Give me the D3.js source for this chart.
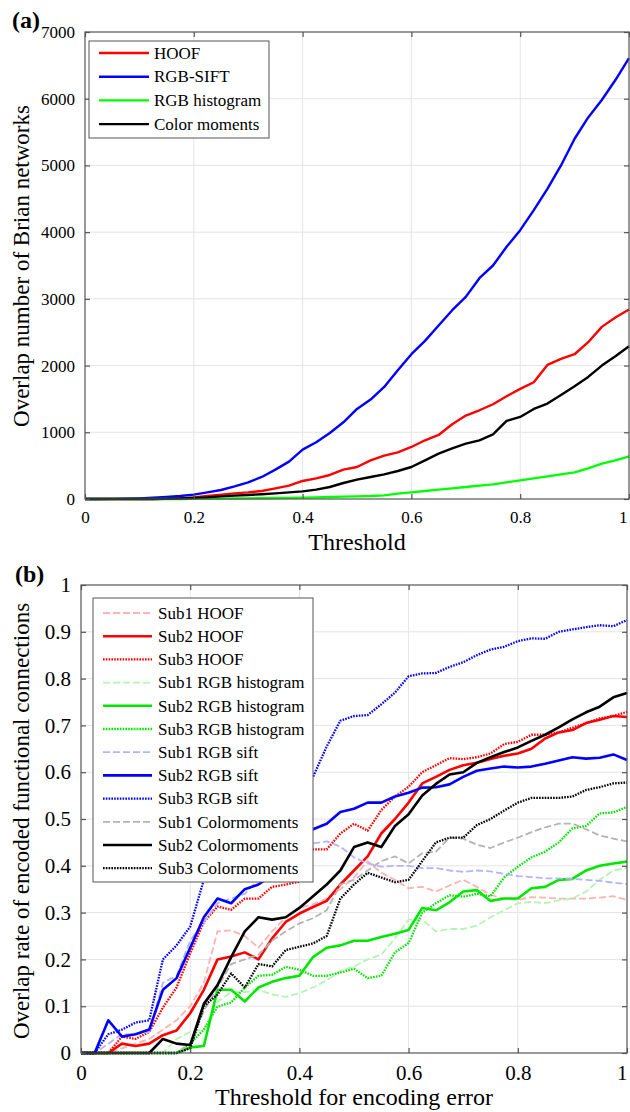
<!DOCTYPE html>
<html><head><meta charset="utf-8">
<script src="https://cdn.jsdelivr.net/npm/d3@7"></script>
<style>
html,body{margin:0;padding:0;background:#fff;}
svg{display:block;font-family:"Liberation Serif","Times New Roman",serif;}
</style></head>
<body>
<svg id="chart" width="630" height="1112"></svg>
<script>
// ---------- DATA ----------
const xGrid = [0,0.025,0.05,0.075,0.1,0.125,0.15,0.175,0.2,0.225,0.25,0.275,0.3,0.325,0.35,0.375,0.4,0.425,0.45,0.475,0.5,0.525,0.55,0.575,0.6,0.625,0.65,0.675,0.7,0.725,0.75,0.775,0.8,0.825,0.85,0.875,0.9,0.925,0.95,0.975,1.0];

// Panel (a)
const aNames = ["HOOF","RGB-SIFT","RGB histogram","Color moments"];
const aColors = ["#ff0000","#0000ff","#00ff00","#000000"];
const aHOOF = [0,0,0,0,0,0,5,10,25,45,65,85,100,120,160,200,270,310,360,440,480,580,650,700,780,880,960,1120,1250,1330,1420,1540,1650,1750,2010,2100,2170,2350,2580,2720,2840];
const aSIFT = [0,0,2,5,10,18,30,45,65,100,135,190,250,330,440,560,740,850,990,1150,1350,1490,1680,1930,2170,2370,2600,2830,3030,3310,3500,3780,4030,4330,4650,5000,5400,5720,5980,6280,6610];
const aHist = [0,0,0,0,0,0,0,1,2,3,5,7,10,12,15,17,20,25,30,35,40,45,55,80,100,120,140,160,180,200,220,250,280,310,340,370,400,460,530,580,640];
const aMom  = [0,0,0,0,0,0,2,8,15,25,40,50,60,72,85,100,115,140,180,240,290,330,370,420,480,580,680,760,830,880,970,1170,1230,1350,1430,1560,1690,1830,2000,2140,2290];
const aYTicks = [0,1000,2000,3000,4000,5000,6000,7000];
const xTicks = [0,0.2,0.4,0.6,0.8,1];

// Panel (b)
const bNames = ["Sub1 HOOF","Sub2 HOOF","Sub3 HOOF","Sub1 RGB histogram","Sub2 RGB histogram","Sub3 RGB histogram","Sub1 RGB sift","Sub2 RGB sift","Sub3 RGB sift","Sub1 Colormoments","Sub2 Colormoments","Sub3 Colormoments"];
const bColors = ["#ffb3b3","#ff0000","#ff0000","#b3f5b3","#00e600","#00e600","#b3b3ff","#0000ff","#0000ff","#b3b3b3","#000000","#000000"];
const bStyles = ["dash","solid","dot","dash","solid","dot","dash","solid","dot","dash","solid","dot"];
const sub1HOOF = [0,0,0,0.01,0.02,0.03,0.05,0.07,0.1,0.15,0.26,0.262,0.25,0.225,0.26,0.29,0.31,0.318,0.33,0.35,0.375,0.41,0.385,0.37,0.352,0.355,0.345,0.358,0.37,0.355,0.338,0.33,0.327,0.333,0.332,0.33,0.33,0.33,0.332,0.335,0.327];
const sub2HOOF = [0,0,0,0.02,0.015,0.02,0.038,0.048,0.085,0.135,0.2,0.206,0.215,0.2,0.245,0.28,0.298,0.312,0.325,0.36,0.39,0.42,0.469,0.5,0.535,0.576,0.59,0.605,0.615,0.62,0.628,0.635,0.64,0.65,0.672,0.685,0.69,0.705,0.712,0.72,0.718];
const sub3HOOF = [0,0,0,0.035,0.03,0.045,0.097,0.14,0.213,0.28,0.313,0.306,0.33,0.33,0.355,0.36,0.366,0.435,0.435,0.469,0.49,0.475,0.519,0.548,0.569,0.6,0.615,0.63,0.628,0.632,0.64,0.66,0.665,0.68,0.68,0.685,0.695,0.705,0.715,0.72,0.729];
const sub1Hist = [0,0,0,0,0,0,0,0.03,0.045,0.05,0.11,0.13,0.13,0.135,0.125,0.12,0.128,0.14,0.155,0.175,0.185,0.2,0.21,0.245,0.285,0.285,0.26,0.265,0.265,0.272,0.29,0.305,0.32,0.323,0.32,0.326,0.33,0.345,0.37,0.39,0.395];
const sub2Hist = [0,0,0,0,0,0,0,0,0.012,0.015,0.135,0.135,0.11,0.14,0.152,0.16,0.165,0.205,0.225,0.23,0.24,0.24,0.248,0.255,0.263,0.31,0.305,0.322,0.345,0.348,0.325,0.33,0.33,0.352,0.355,0.37,0.372,0.39,0.4,0.405,0.409];
const sub3Hist = [0,0,0,0,0,0,0,0,0.02,0.05,0.099,0.108,0.14,0.165,0.167,0.184,0.178,0.165,0.165,0.172,0.18,0.16,0.165,0.215,0.235,0.3,0.32,0.337,0.334,0.34,0.335,0.375,0.398,0.418,0.43,0.45,0.48,0.485,0.512,0.514,0.526];
const sub1Sift = [0,0,0.02,0.04,0.04,0.045,0.15,0.165,0.24,0.28,0.32,0.33,0.34,0.37,0.4,0.42,0.44,0.448,0.452,0.441,0.418,0.405,0.398,0.4,0.4,0.395,0.395,0.39,0.387,0.39,0.388,0.383,0.378,0.376,0.373,0.373,0.372,0.37,0.368,0.364,0.361];
const sub2Sift = [0,0,0.07,0.035,0.04,0.05,0.135,0.16,0.225,0.29,0.33,0.32,0.35,0.36,0.38,0.42,0.46,0.478,0.49,0.515,0.522,0.535,0.535,0.548,0.556,0.567,0.568,0.574,0.59,0.603,0.608,0.612,0.61,0.612,0.618,0.625,0.632,0.629,0.631,0.638,0.626];
const sub3Sift = [0,0,0.04,0.05,0.065,0.07,0.2,0.23,0.27,0.37,0.45,0.48,0.5,0.52,0.53,0.545,0.56,0.59,0.655,0.71,0.72,0.722,0.745,0.77,0.805,0.811,0.812,0.825,0.835,0.85,0.862,0.868,0.88,0.886,0.885,0.9,0.905,0.91,0.914,0.912,0.925];
const sub1Mom = [0,0,0,0,0,0,0,0,0.02,0.09,0.14,0.19,0.2,0.21,0.24,0.26,0.277,0.288,0.305,0.36,0.37,0.39,0.41,0.42,0.405,0.427,0.43,0.46,0.458,0.445,0.438,0.45,0.46,0.472,0.482,0.49,0.49,0.478,0.465,0.458,0.452];
const sub2Mom = [0,0,0,0,0,0,0.03,0.02,0.017,0.105,0.145,0.205,0.26,0.29,0.285,0.29,0.31,0.335,0.36,0.39,0.44,0.45,0.44,0.485,0.51,0.55,0.575,0.595,0.6,0.62,0.632,0.643,0.653,0.667,0.68,0.696,0.713,0.728,0.74,0.76,0.769];
const sub3Mom = [0,0,0,0,0,0,0,0,0.01,0.1,0.125,0.17,0.14,0.19,0.185,0.22,0.227,0.234,0.25,0.33,0.36,0.385,0.375,0.365,0.37,0.41,0.45,0.46,0.46,0.487,0.5,0.518,0.535,0.545,0.545,0.545,0.548,0.562,0.568,0.576,0.578];
const bSeries = [sub1HOOF,sub2HOOF,sub3HOOF,sub1Hist,sub2Hist,sub3Hist,sub1Sift,sub2Sift,sub3Sift,sub1Mom,sub2Mom,sub3Mom];
const bYTicks = [0,0.1,0.2,0.3,0.4,0.5,0.6,0.7,0.8,0.9,1];

// ---------- DRAW ----------
const svg = d3.select("#chart");
const fmt = d => d===0?"0":(d===1?"1":String(d));

function grid(g, x, y, xt, yt){
  const [x0,x1] = x.range(), [y0,y1] = y.range();
  g.append("g").selectAll("line").data(xt.slice(1,-1)).join("line")
    .attr("x1",d=>x(d)).attr("x2",d=>x(d)).attr("y1",y0).attr("y2",y1)
    .attr("stroke","#e4e4e4").attr("stroke-width",1);
  g.append("g").selectAll("line").data(yt.slice(1,-1)).join("line")
    .attr("y1",d=>y(d)).attr("y2",d=>y(d)).attr("x1",x0).attr("x2",x1)
    .attr("stroke","#e4e4e4").attr("stroke-width",1);
}
function axesOn(g, x, y, xt, yt, tickFont, yFmt){
  const [x0,x1] = x.range(), [y0,y1] = y.range();
  const ax = g.append("g").attr("class","axes");
  ax.append("rect").attr("x",x0).attr("y",y1).attr("width",x1-x0).attr("height",y0-y1)
    .attr("fill","none").attr("stroke","#555").attr("stroke-width",1.2);
  const bx = ax.append("g").attr("transform",`translate(0,${y0})`)
    .call(d3.axisBottom(x).tickValues(xt).tickSize(-5).tickPadding(12).tickFormat(fmt));
  const tx = ax.append("g").attr("transform",`translate(0,${y1})`)
    .call(d3.axisTop(x).tickValues(xt).tickSize(-5).tickFormat(""));
  const ly = ax.append("g").attr("transform",`translate(${x0},0)`)
    .call(d3.axisLeft(y).tickValues(yt).tickSize(-5).tickPadding(10).tickFormat(yFmt));
  const ry = ax.append("g").attr("transform",`translate(${x1},0)`)
    .call(d3.axisRight(y).tickValues(yt).tickSize(-5).tickFormat(""));
  [bx,tx,ly,ry].forEach(a=>{
    a.select(".domain").remove();
    a.selectAll(".tick line").attr("stroke","#555").attr("stroke-width",1.2);
    a.selectAll("text").attr("font-family","Liberation Serif").attr("font-size",tickFont).attr("fill","#000");
  });
  // keep the last x label (1) inside the page edge
  bx.selectAll(".tick").filter(d=>d===1).select("text").attr("text-anchor","end").attr("dx",(627 - x1) + "px");
}

// Panel (a)
const xa = d3.scaleLinear().domain([0,1]).range([85,629]);
const ya = d3.scaleLinear().domain([0,7000]).range([499,32]);
const ga = svg.append("g");
grid(ga, xa, ya, xTicks, aYTicks);
const aSeries = [aHOOF,aSIFT,aHist,aMom];
const lineA = d3.line().x((d,i)=>xa(xGrid[i])).y(d=>ya(d));
aSeries.forEach((s,k)=>{
  ga.append("path").datum(s).attr("d",lineA).attr("fill","none")
    .attr("stroke",aColors[k]).attr("stroke-width",2.4).attr("stroke-linejoin","round");
});
axesOn(ga, xa, ya, xTicks, aYTicks, 17, d=>String(d));
const lga = ga.append("g");
lga.append("rect").attr("x",89).attr("y",41).attr("width",180).attr("height",97)
  .attr("fill","#fff").attr("stroke","#555").attr("stroke-width",1);
aNames.forEach((n,i)=>{
  const yy = 53 + i*23.7;
  lga.append("line").attr("x1",99).attr("x2",149).attr("y1",yy).attr("y2",yy)
    .attr("stroke",aColors[i]).attr("stroke-width",2.4);
  lga.append("text").attr("x",154).attr("y",yy).attr("dy","0.34em")
    .attr("font-size",17).text(n);
});
svg.append("text").attr("x",12).attr("y",28).attr("font-size",24).attr("font-weight","bold").text("(a)");
svg.append("text").attr("x",(85+629)/2).attr("y",550).attr("text-anchor","middle").attr("font-size",24).text("Threshold");
svg.append("text").attr("transform","translate(29,266) rotate(-90)").attr("text-anchor","middle").attr("font-size",23).text("Overlap number of Brian networks");

// Panel (b)
const xb = d3.scaleLinear().domain([0,1]).range([81,627]);
const yb = d3.scaleLinear().domain([0,1]).range([1053,585]);
const gb = svg.append("g");
grid(gb, xb, yb, xTicks, bYTicks);
const lineB = d3.line().x((d,i)=>xb(xGrid[i])).y(d=>yb(d));
const styleOf = st => st==="dash" ? {w:1.8,da:"7,3"} : st==="dot" ? {w:2.3,da:"1.6,1.2"} : {w:2.6,da:null};
bSeries.forEach((s,k)=>{
  const st = styleOf(bStyles[k]);
  gb.append("path").datum(s).attr("d",lineB).attr("fill","none")
    .attr("stroke",bColors[k]).attr("stroke-width",st.w).attr("stroke-dasharray",st.da)
    .attr("stroke-linejoin","round");
});
axesOn(gb, xb, yb, xTicks, bYTicks, 21, fmt);
const lgb = gb.append("g");
lgb.append("rect").attr("x",93).attr("y",598).attr("width",220).attr("height",284)
  .attr("fill","#fff").attr("stroke","#555").attr("stroke-width",1);
bNames.forEach((n,i)=>{
  const yy = 613 + i*23.2;
  const st = styleOf(bStyles[i]);
  lgb.append("line").attr("x1",103).attr("x2",152).attr("y1",yy).attr("y2",yy)
    .attr("stroke",bColors[i]).attr("stroke-width",st.w).attr("stroke-dasharray",st.da);
  lgb.append("text").attr("x",158).attr("y",yy).attr("dy","0.34em")
    .attr("font-size",17).text(n);
});
svg.append("text").attr("x",15).attr("y",582).attr("font-size",24).attr("font-weight","bold").text("(b)");
svg.append("text").attr("x",(81+627)/2).attr("y",1105).attr("text-anchor","middle").attr("font-size",24).text("Threshold for encoding error");
svg.append("text").attr("transform","translate(29,821) rotate(-90)").attr("text-anchor","middle").attr("font-size",23).text("Overlap rate of encoded functional connections");
</script>
</body></html>
